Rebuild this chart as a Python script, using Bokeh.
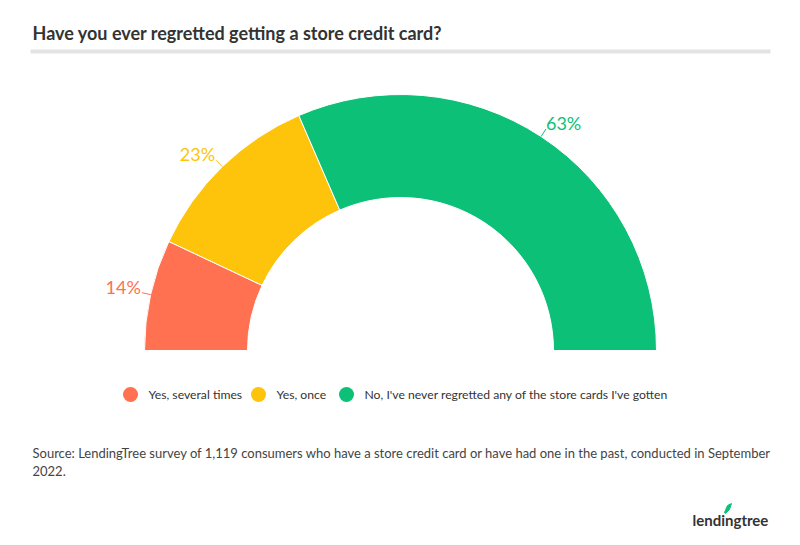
import numpy as np
from bokeh.plotting import figure
from bokeh.models import Range1d
from bokeh.core.properties import value
from bokeh.embed import file_html
from bokeh.resources import INLINE

# ---- data ----
categories = ["Yes, several times", "Yes, once", "No, I've never regretted any of the store cards I've gotten"]
shares = [14, 23, 63]
labels = ["14%", "23%", "63%"]
colors = ["#FF7150", "#FEC40B", "#0CC177"]

title = "Have you ever regretted getting a store credit card?"
source_lines = ["Source: LendingTree survey of 1,119 consumers who have a store credit card or have had one in the past, conducted in September",
                "2022."]

FONT = value("Lato")
W, H = 792, 537

p = figure(width=W, height=H, output_backend="svg", toolbar_location=None,
           x_range=Range1d(0, W), y_range=Range1d(-H, 0),
           min_border=0, outline_line_color=None)
p.axis.visible = False
p.grid.visible = False
p.background_fill_color = "white"

# ---- title & rule ----
p.text(x=[32], y=[-32], text=[title], text_font=FONT, text_font_size="18px",
       text_font_style="bold", text_color="#333333", text_baseline="middle")
p.quad(left=[30], right=[770], top=[-49], bottom=[-53], fill_color="#E3E3E3", line_color=None)

# ---- semi donut ----
cx, cy = 400, -350
r_out, r_in = 256, 153
total = float(sum(shares))
ends_deg = 180 - np.cumsum(shares) / total * 180
starts_deg = np.concatenate([[180], ends_deg[:-1]])
p.annular_wedge(x=cx, y=cy, inner_radius=r_in, outer_radius=r_out,
                start_angle=list(np.radians(ends_deg)), end_angle=list(np.radians(starts_deg)),
                fill_color=colors, line_color="white", line_width=1)

# ---- data labels with connectors ----
for s, e, lab, col in zip(starts_deg, ends_deg, labels, colors):
    mid = np.radians((s + e) / 2)
    x0, y0 = cx + r_out * np.cos(mid), cy + r_out * np.sin(mid)
    x1, y1 = cx + (r_out + 9) * np.cos(mid), cy + (r_out + 9) * np.sin(mid)
    right_side = np.cos(mid) > 0
    p.line(x=[x0, x1], y=[y0, y1], line_color=col, line_width=1)
    p.text(x=[x1 + (0 if right_side else -1)], y=[y1 + 6], text=[lab], text_font=FONT,
           text_font_size="18px", text_color=col, text_baseline="middle",
           text_align="left" if right_side else "right")

# ---- legend ----
leg_x = [130, 258, 346]
leg_y = -394
for lx, cat, col in zip(leg_x, categories, colors):
    p.scatter(x=[lx], y=[leg_y], size=15, marker="circle", fill_color=col, line_color=None)
    p.text(x=[lx + 18], y=[leg_y], text=[cat], text_font=FONT, text_font_size="12.2px",
           text_color="#333333", text_baseline="middle")

# ---- source ----
for i, line in enumerate(source_lines):
    p.text(x=[32], y=[-452 - 18 * i], text=[line], text_font=FONT, text_font_size="13px",
           text_color="#444444", text_baseline="middle")

# ---- logo ----
p.text(x=[692], y=[-519], text=["lendingtree"], text_font=FONT, text_font_size="15px",
       text_font_style="bold", text_color="#333333", text_baseline="middle")
p.patch(x=[724, 727, 731, 729, 725], y=[-512, -505, -503, -509, -513],
        fill_color="#0CC177", line_color="#0CC177", line_width=1)

open("out.html", "w").write(file_html(p, INLINE))
